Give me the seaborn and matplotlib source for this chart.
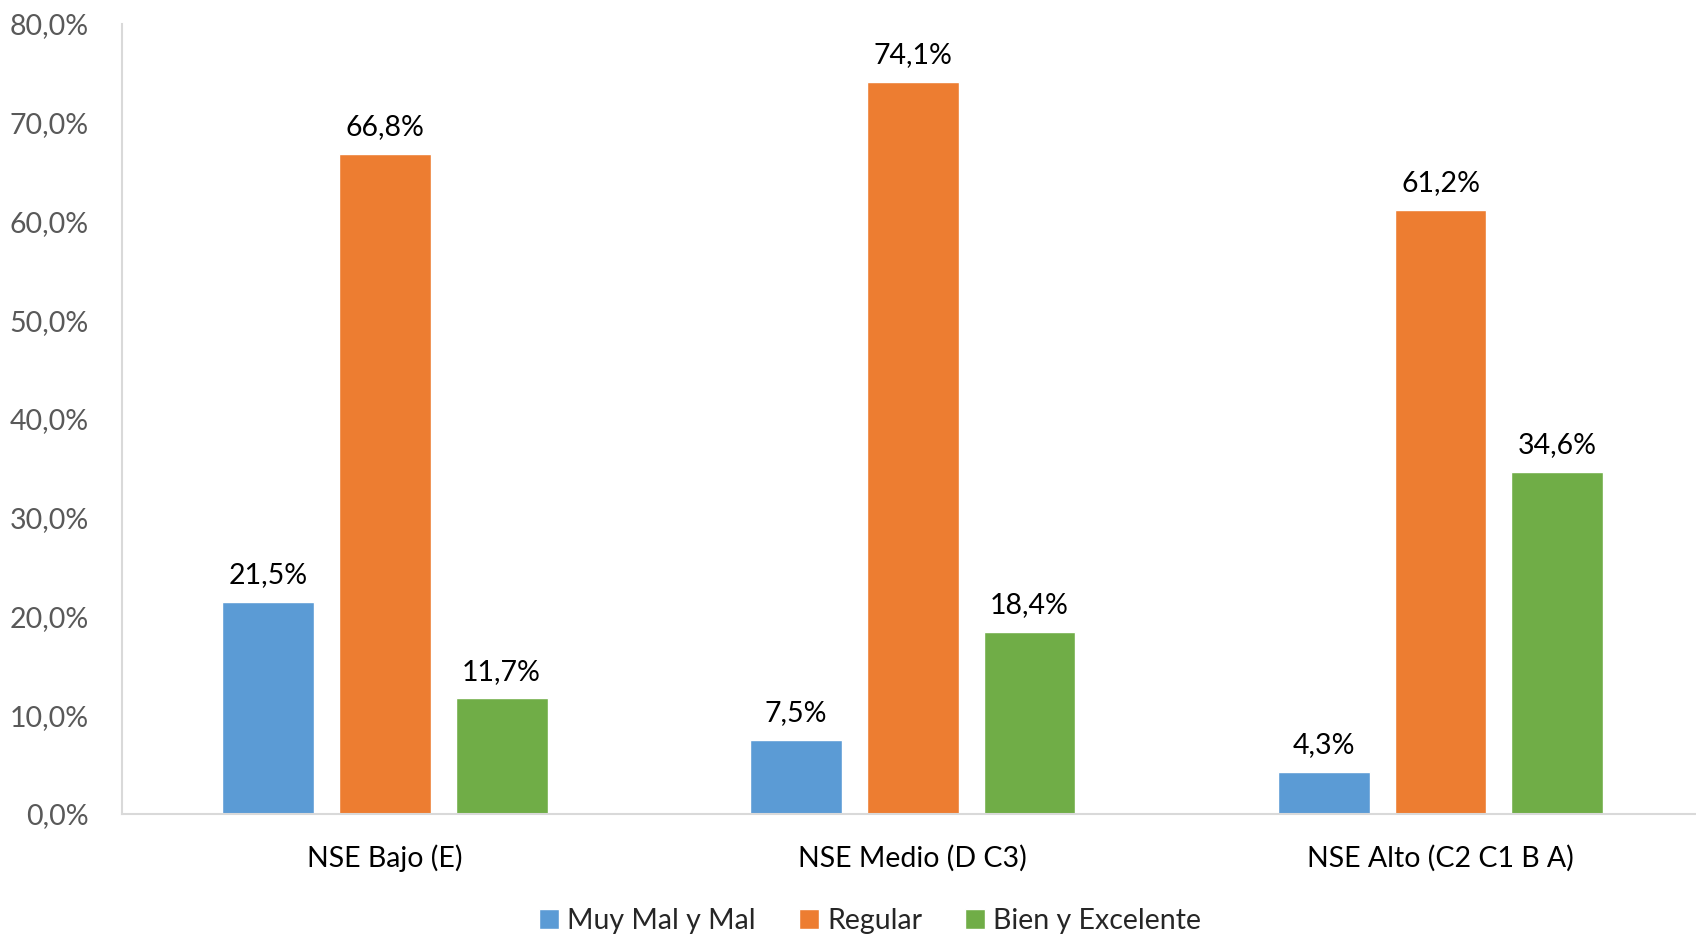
import pandas as pd
import seaborn as sns
import matplotlib.pyplot as plt
from matplotlib.ticker import FuncFormatter, MultipleLocator

# datos del grafico
categorias = ['NSE Bajo (E)', 'NSE Medio (D C3)', 'NSE Alto (C2 C1 B A)']
series = ['Muy Mal y Mal', 'Regular', 'Bien y Excelente']
muy_mal = [21.5, 7.5, 4.3]
regular = [66.8, 74.1, 61.2]
bien = [11.7, 18.4, 34.6]
colores = ['#5B9BD5', '#ED7D31', '#70AD47']

df = pd.DataFrame({
    'NSE': categorias * 3,
    'Serie': [series[0]] * 3 + [series[1]] * 3 + [series[2]] * 3,
    'Valor': muy_mal + regular + bien,
})

sns.set_style('white')
plt.rcParams['font.family'] = ['Lato', 'DejaVu Sans']

fig = plt.figure(figsize=(16.96, 9.34), dpi=100)
ax = fig.add_axes([0.0719, 0.1285, 0.9281, 0.8458])

sns.barplot(data=df, x='NSE', y='Valor', hue='Serie', palette=colores,
            saturation=1, width=0.664, gap=0.213, ax=ax, legend=True)

def coma(v):
    return f'{v:.1f}%'.replace('.', ',')

for cont in ax.containers:
    ax.bar_label(cont, labels=[coma(b.get_height()) for b in cont],
                 padding=10, fontsize=20.5, color='black')

ax.set_ylim(0, 80)
ax.yaxis.set_major_locator(MultipleLocator(10))
ax.yaxis.set_major_formatter(FuncFormatter(lambda v, p: coma(v)))
ax.set_xlim(-0.498, 2.484)
ax.set_xlabel('')
ax.set_ylabel('')
ax.tick_params(axis='y', labelsize=20.5, labelcolor='#595959', length=0, pad=24)
ax.tick_params(axis='x', labelsize=20.5, labelcolor='black', length=0, pad=22)

for s in ['top', 'right']:
    ax.spines[s].set_visible(False)
for s in ['left', 'bottom']:
    ax.spines[s].set_color('#D9D9D9')
    ax.spines[s].set_linewidth(1.5)

handles, labels = ax.get_legend_handles_labels()
ax.get_legend().remove()
fig.legend(handles, labels, loc='center', bbox_to_anchor=(0.513, 0.014),
           ncol=3, frameon=False, fontsize=20.5, handlelength=0.7,
           handleheight=0.7, handletextpad=0.3, columnspacing=1.5)

fig.savefig('out.png', dpi=100)
